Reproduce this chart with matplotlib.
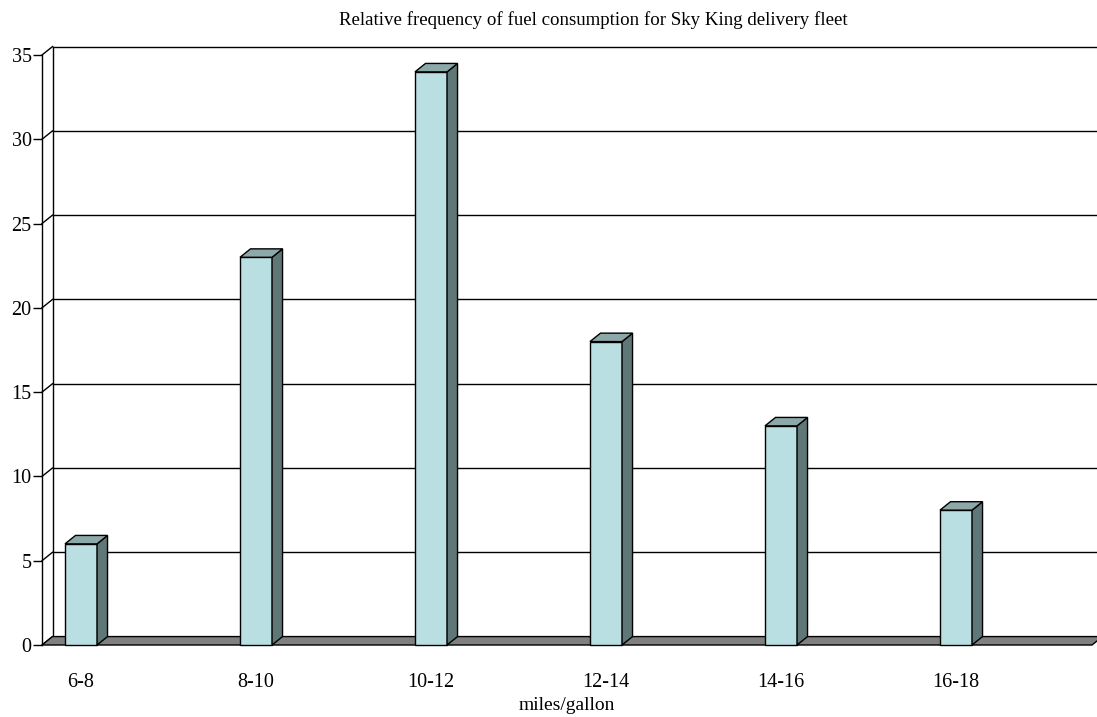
import matplotlib.pyplot as plt
from matplotlib.patches import Polygon, Rectangle

# Datos
categorias = ['6-8', '8-10', '10-12', '12-14', '14-16', '16-18']
frecuencia = [6, 23, 34, 18, 13, 8]
marcas_y = [0, 5, 10, 15, 20, 25, 30, 35]

plt.rcParams['font.family'] = ['Liberation Serif', 'DejaVu Serif']

fig = plt.figure(figsize=(10.97, 7.17), dpi=100)
ax = fig.add_axes([42 / 1097, 72 / 717, 1050 / 1097, 590 / 717])

x0, x1 = -0.223, 5.777
dx, dy = 0.06, 0.5      # profundidad del efecto 3D
ancho = 0.183

ax.set_xlim(x0, x1)
ax.set_ylim(0, 35)

# pared del fondo y pared izquierda
for v in marcas_y:
    ax.plot([x0 + dx, x1 + dx + 0.1], [v + dy, v + dy], color='black', lw=1, clip_on=False, zorder=1)
    ax.plot([x0, x0 + dx], [v, v + dy], color='black', lw=1, clip_on=False, zorder=1)
ax.plot([x0 + dx, x0 + dx], [dy, 35 + dy], color='black', lw=1, clip_on=False, zorder=1)

# suelo
suelo = Polygon([(x0, 0), (x1, 0), (x1 + dx, dy), (x0 + dx, dy)], closed=True,
                facecolor='#808080', edgecolor='black', lw=1, clip_on=False, zorder=2)
ax.add_patch(suelo)

# barras 3D
for i, v in enumerate(frecuencia):
    izq, der = i - ancho / 2, i + ancho / 2
    ax.add_patch(Rectangle((izq, 0), ancho, v, facecolor='#BADFE2', edgecolor='black',
                           lw=1, clip_on=False, zorder=3))
    ax.add_patch(Polygon([(der, 0), (der + dx, dy), (der + dx, v + dy), (der, v)], closed=True,
                         facecolor='#5F7777', edgecolor='black', lw=1, clip_on=False, zorder=3))
    ax.add_patch(Polygon([(izq, v), (der, v), (der + dx, v + dy), (izq + dx, v + dy)], closed=True,
                         facecolor='#8DA8A8', edgecolor='black', lw=1, clip_on=False, zorder=3))

for lado in ['top', 'right', 'bottom']:
    ax.spines[lado].set_visible(False)
ax.spines['left'].set_linewidth(1)
ax.spines['left'].set_zorder(4)

ax.set_yticks(marcas_y)
ax.tick_params(axis='y', length=6.5, width=1, pad=1, labelsize=14.5)
ax.set_xticks(range(len(categorias)), categorias)
ax.tick_params(axis='x', length=0, pad=20.5, labelsize=14.5)
ax.set_xlabel('miles/gallon', fontsize=14, labelpad=3)

fig.text(593 / 1097, 1 - 20 / 717, 'Relative frequency of fuel consumption for Sky King delivery fleet',
         ha='center', va='center', fontsize=13.6)

fig.savefig('out.png', dpi=100)
